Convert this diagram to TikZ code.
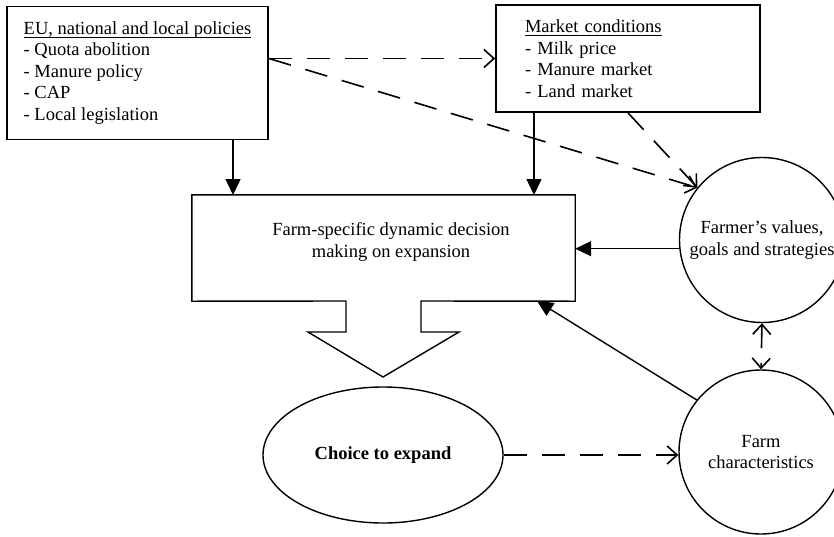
\documentclass[tikz,border=0pt]{standalone}
\usepackage{fontspec}
\setmainfont{Liberation Serif}
\usetikzlibrary{arrows.meta,shapes.geometric,calc}

% underlined heading with a rule a little below the baseline
\newcommand{\hdr}[1]{\setbox0\hbox{#1}\rlap{\rule[-3.2pt]{\wd0}{1.1pt}}\box0}

\tikzset{
  openv/.tip={Straight Barb[length=10pt,width=18pt]},
  solidtri/.tip={Triangle[length=16pt,width=15pt]},
  txt/.style={font=\fontsize{18.5pt}{21.5pt}\selectfont},
  listbox/.style={txt, draw, line width=1.7pt, align=left, inner sep=0pt},
  ring/.style={txt, draw, circle, line width=1.4pt, align=center, inner sep=0pt},
  link/.style={line width=1.4pt, -solidtri},
  dashlink/.style={line width=1.6pt, dash pattern=on 23pt off 15pt, -openv},
}

\begin{document}
\begin{tikzpicture}[x=1pt,y=-1pt]
\path[use as bounding box, clip] (0,0) rectangle (834,536);

% input boxes
\node[listbox, minimum width=261pt, minimum height=133pt] (policies) at (137.5,73)
  {\hdr{EU, national and local policies}\\- Quota abolition\\- Manure policy\\- CAP\\- Local legislation};
\node[listbox, minimum width=264pt, minimum height=107pt, text width=206pt, inner xsep=29pt] (market) at (628,58.5)
  {\hdr{Market conditions}\\- Milk price\\- Manure market\\- Land market};

% decision box with its block arrow
\node[inner sep=0pt, minimum width=383pt, minimum height=106pt] (decision) at (383.5,248) {};
\draw[line width=1.4pt] (decision.north west) -- (decision.north east) -- (decision.south east)
  -- (421,301) -- (421,332) -- (459,332) -- (383,377) -- (308,332) -- (346,332) -- (346,301)
  -- (decision.south west) -- cycle;
\node[txt, align=center] (dectext) at (391,242) {Farm-specific dynamic decision\\making on expansion};

% outcome and farm-level factors
\node[draw, ellipse, line width=1.4pt, minimum width=240pt, minimum height=136pt, inner sep=0pt,
  font=\fontsize{18.5pt}{21.5pt}\selectfont\bfseries] (choice) at (383,455) {Choice to expand};
\node[ring, minimum size=165pt] (values) at (762,240) {Farmer’s values,\\goals and strategies};
\node[ring, minimum size=164pt] (farmchar) at (761,452) {Farm\\characteristics};

% solid influences
\coordinate (pin) at (233,195);
\coordinate (min) at (534,195);
\coordinate (fin) at (537,301);
\draw[link] (policies.south -| pin) -- (pin);
\draw[link] (market.south -| min) -- (min);
\draw[link] (values.186) -- (values.186 -| decision.east);
\draw[link] (farmchar.141) -- (fin);

% dashed influences
\draw[dashlink] (policies.east |- market.west) -- (market.west);
\draw[dashlink] (policies.east |- market.west) -- (values.141);
\draw[dashlink] (market.south) -- (values.141);
\draw[dashlink] (choice.east) -- (farmchar.west |- choice.east);
\draw[dashlink, openv-openv] (values.south) -- (farmchar.north);
\end{tikzpicture}
\end{document}
